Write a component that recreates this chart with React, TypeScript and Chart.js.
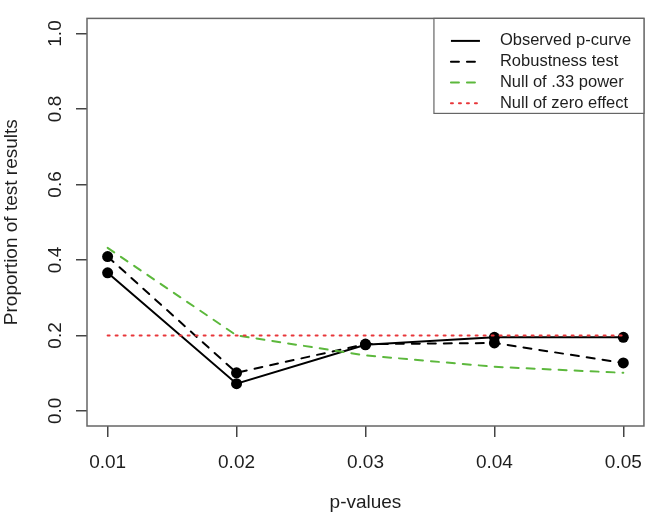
import React, { useEffect, useRef } from 'react';
import { Chart, registerables } from 'chart.js';

Chart.register(...registerables);

// ---- data ----
const pValues = [0.01, 0.02, 0.03, 0.04, 0.05];
const observed = [0.366, 0.072, 0.175, 0.195, 0.195];
const robustness = [0.409, 0.101, 0.177, 0.18, 0.127];
const nullPower33 = [0.432, 0.2, 0.147, 0.117, 0.101];
const nullZero = [0.2, 0.2, 0.2, 0.2, 0.2];
const xTicks = [0.01, 0.02, 0.03, 0.04, 0.05];
const yTicks = [0, 0.2, 0.4, 0.6, 0.8, 1.0];
const seriesLabels = ['Observed p-curve', 'Robustness test', 'Null of .33 power', 'Null of zero effect'];
const xTitle = 'p-values';
const yTitle = 'Proportion of test results';

const FONT = '"Liberation Sans", Arial, sans-serif';
const TEXT = '#1e1e1e';

const toPoints = (ys: number[]) => pValues.map((x, i) => ({ x, y: ys[i] }));

const boxPlugin = {
  id: 'rBox',
  afterDatasetsDraw(chart: any) {
    const { ctx, chartArea: a } = chart;
    ctx.save();
    ctx.strokeStyle = '#666';
    ctx.lineWidth = 1.5;
    ctx.strokeRect(a.left, a.top, a.right - a.left, a.bottom - a.top);
    ctx.restore();
  },
};

const legendPlugin = {
  id: 'rLegend',
  afterDraw(chart: any) {
    const { ctx, chartArea: a } = chart;
    const w = 210;
    const h = 95;
    const left = a.right - w;
    const top = a.top;
    ctx.save();
    ctx.fillStyle = '#ffffff';
    ctx.fillRect(left, top, w, h);
    ctx.strokeStyle = '#666';
    ctx.lineWidth = 1.2;
    ctx.strokeRect(left, top, w, h);
    seriesLabels.forEach((label, i) => {
      const ds: any = chart.data.datasets.find((d: any) => d.label === label);
      const y = top + 22.5 + i * 20.8;
      ctx.beginPath();
      ctx.setLineDash(ds.borderDash || []);
      ctx.lineCap = ds.borderCapStyle || 'butt';
      ctx.strokeStyle = ds.borderColor;
      ctx.lineWidth = ds.borderWidth;
      ctx.moveTo(left + 17, y);
      ctx.lineTo(left + 46, y);
      ctx.stroke();
      ctx.setLineDash([]);
      ctx.fillStyle = TEXT;
      ctx.font = `16.5px ${FONT}`;
      ctx.textBaseline = 'middle';
      ctx.textAlign = 'left';
      ctx.fillText(label, left + 66, y);
    });
    ctx.restore();
  },
};

export default function App() {
  const ref = useRef<HTMLCanvasElement | null>(null);

  useEffect(() => {
    if (!ref.current) return;
    Chart.defaults.font.family = FONT;
    const chart = new Chart(ref.current, {
      type: 'line',
      data: {
        datasets: [
          {
            label: seriesLabels[0],
            data: toPoints(observed),
            borderColor: '#000000',
            backgroundColor: '#000000',
            borderWidth: 2,
            pointRadius: 5.5,
            pointBackgroundColor: '#000000',
            pointBorderWidth: 0,
            tension: 0,
            order: 4,
          },
          {
            label: seriesLabels[1],
            data: toPoints(robustness),
            borderColor: '#000000',
            backgroundColor: '#000000',
            borderWidth: 2,
            borderDash: [8, 8],
            borderCapStyle: 'round',
            pointRadius: 5.5,
            pointBackgroundColor: '#000000',
            pointBorderWidth: 0,
            tension: 0,
            order: 3,
          },
          {
            label: seriesLabels[2],
            data: toPoints(nullPower33),
            borderColor: '#5cb83c',
            backgroundColor: '#5cb83c',
            borderWidth: 2,
            borderDash: [8, 8],
            borderCapStyle: 'round',
            pointRadius: 0,
            tension: 0,
            order: 2,
          },
          {
            label: seriesLabels[3],
            data: toPoints(nullZero),
            borderColor: '#e8363a',
            backgroundColor: '#e8363a',
            borderWidth: 2,
            borderDash: [2, 6],
            borderCapStyle: 'round',
            pointRadius: 0,
            tension: 0,
            order: 1,
          },
        ],
      },
      options: {
        responsive: false,
        animation: false,
        events: [],
        devicePixelRatio: 1,
        layout: { padding: { left: 0, right: 2, top: 2.5, bottom: 0 } },
        plugins: { legend: { display: false }, tooltip: { enabled: false }, title: { display: false } },
        scales: {
          x: {
            type: 'linear',
            min: 0.0084,
            max: 0.0516,
            afterBuildTicks: (s: any) => {
              s.ticks = xTicks.map((v) => ({ value: v }));
            },
            afterFit: (s: any) => {
              s.height = 90;
            },
            grid: { drawOnChartArea: false, drawTicks: true, tickLength: 11, color: '#444', lineWidth: 1.5 },
            border: { display: false },
            ticks: {
              autoSkip: false,
              maxRotation: 0,
              padding: 14,
              color: TEXT,
              font: { size: 19 },
              callback: (v: any) => Number(v).toFixed(2),
            },
            title: { display: true, text: xTitle, color: TEXT, font: { size: 19 }, padding: { top: 0, bottom: 2 } },
          },
          y: {
            type: 'linear',
            min: -0.04,
            max: 1.04,
            afterBuildTicks: (s: any) => {
              s.ticks = yTicks.map((v) => ({ value: v }));
            },
            afterFit: (s: any) => {
              s.width = 87;
            },
            grid: { drawOnChartArea: false, drawTicks: true, tickLength: 11, color: '#444', lineWidth: 1.5 },
            border: { display: false },
            ticks: {
              autoSkip: false,
              minRotation: 90,
              maxRotation: 90,
              crossAlign: 'center',
              padding: 7,
              color: TEXT,
              font: { size: 19 },
              callback: (v: any) => Number(v).toFixed(1),
            },
            title: { display: true, text: yTitle, color: TEXT, font: { size: 19 }, padding: { top: 0, bottom: 0 } },
          },
        },
      },
      plugins: [boxPlugin, legendPlugin],
    } as any);
    return () => chart.destroy();
  }, []);

  return (
    <div style={{ position: 'absolute', left: 0, top: 0, width: 656, height: 516, background: '#fff' }}>
      <canvas ref={ref} width={656} height={516} style={{ display: 'block', width: 656, height: 516 }} />
    </div>
  );
}
